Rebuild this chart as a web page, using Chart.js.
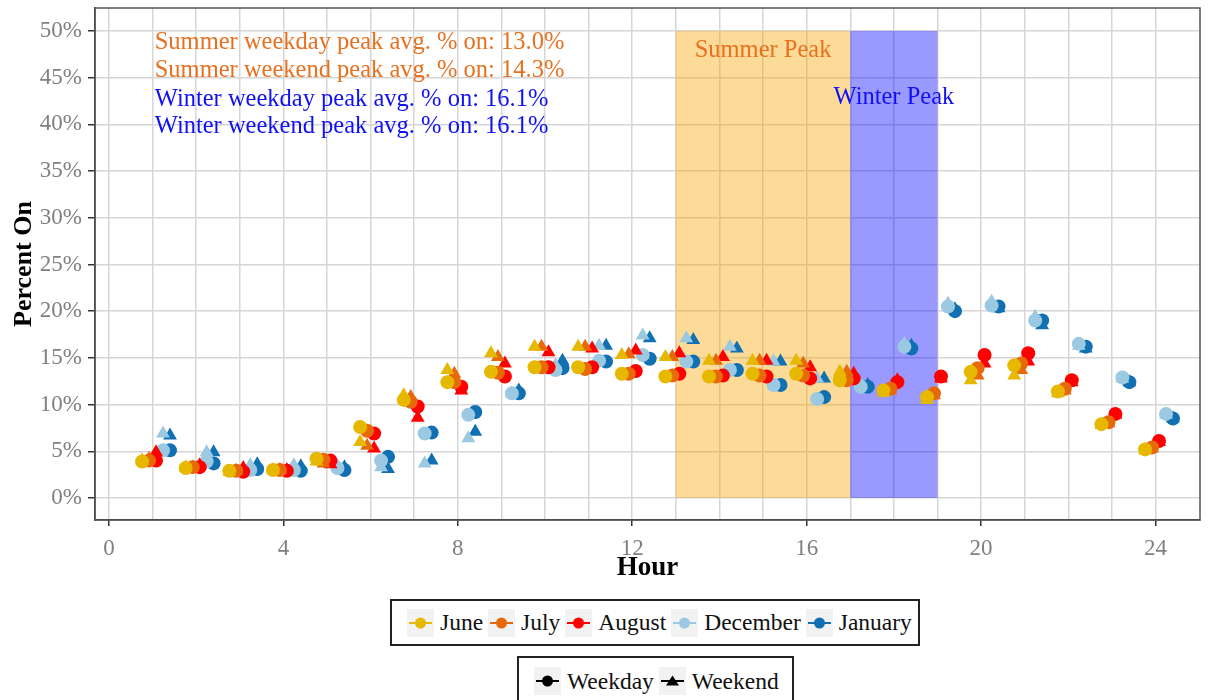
<!DOCTYPE html>
<html>
<head>
<meta charset="utf-8">
<script src="https://cdn.jsdelivr.net/npm/chart.js@4/dist/chart.umd.min.js"></script>
<style>
  body { margin: 0; background: #fff; font-family: "Liberation Serif", serif; }
  #wrap { position: relative; width: 1213px; height: 700px; overflow: hidden; }
  canvas { position: absolute; left: 0; top: 0; }
  .legend { position: absolute; border: 2px solid #222; background: #fff; display: flex; align-items: center; box-sizing: border-box; }
  .item { display: flex; align-items: center; margin-right: 5px; font-size: 23.5px; color: #111; }
  .key { width: 27px; height: 28px; background: #f2f2f2; margin-right: 6px; }
</style>
</head>
<body>
<div id="wrap">
  <canvas id="chart" width="1213" height="700"></canvas>
  <div class="legend" id="leg1" style="left:390px; top:599px; width:530px; height:47px; padding-left:15px;"></div>
  <div class="legend" id="leg2" style="left:517px; top:656px; width:277px; height:50px; padding-left:15px; align-items:flex-start; padding-top:9px;"></div>
</div>
<script>
// hours and monthly % on (circles = weekday, triangles = weekend)
var hours = [1,2,3,4,5,6,7,8,9,10,11,12,13,14,15,16,17,18,19,20,21,22,23,24];
var months = ['June', 'July', 'August', 'December', 'January'];
var monthColors = ['#E7B800', '#E66A0A', '#FF0000', '#9CC9E2', '#1170B2'];
var dodge = [-0.24, -0.08, 0.08, 0.24, 0.40];

var juneWeekday = [3.9,3.2,2.9,3.0,4.2,7.6,10.5,12.4,13.5,14.0,14.0,13.3,13.0,13.0,13.3,13.3,12.6,11.5,10.8,13.5,14.2,11.4,7.9,5.2];
var juneWeekend = [4.0,3.3,2.8,3.0,3.9,6.0,11.0,13.7,15.5,16.2,16.2,15.3,15.1,14.7,14.7,14.7,13.5,11.3,10.5,12.6,13.1,11.2,7.8,5.1];
var julyWeekday = [4.0,3.3,2.9,3.0,4.1,7.2,10.3,12.4,13.4,14.0,13.8,13.3,13.1,13.0,13.1,13.1,12.6,11.7,11.2,13.9,14.4,11.7,8.1,5.4];
var julyWeekend = [4.2,3.3,2.9,3.0,3.7,5.6,10.8,13.3,15.1,16.2,16.2,15.4,15.1,14.7,14.7,14.4,13.5,11.5,11.0,13.1,13.7,11.5,8.0,5.3];
var augWeekday = [4.0,3.3,2.8,2.9,4.0,6.9,9.8,11.9,13.0,14.0,14.0,13.6,13.3,13.1,13.0,12.8,12.8,12.4,13.0,15.3,15.5,12.6,9.0,6.1];
var augWeekend = [4.9,3.5,3.2,3.0,3.6,5.3,8.6,11.5,14.4,15.6,16.0,15.8,15.5,15.1,14.7,14.0,13.3,12.6,12.8,14.4,14.6,12.4,8.9,6.0];
var decWeekday = [5.1,3.9,3.0,3.0,3.2,4.0,6.9,8.9,11.2,13.7,14.7,15.3,14.6,13.7,12.1,10.6,11.9,16.2,20.5,20.6,19.0,16.5,12.9,9.0];
var decWeekend = [6.9,4.9,3.5,3.5,3.4,3.3,3.7,6.4,11.2,14.2,16.3,17.4,17.1,16.2,14.6,12.8,12.1,16.5,20.8,21.0,19.4,16.3,12.8,8.9];
var janWeekday = [5.1,3.7,3.1,2.9,3.0,4.4,7.0,9.2,11.2,13.9,14.6,14.9,14.6,13.7,12.1,10.8,11.9,16.0,20.0,20.5,19.0,16.2,12.4,8.5];
var janWeekend = [6.7,4.9,3.6,3.4,3.3,3.1,4.0,7.1,11.5,14.7,16.3,17.1,16.9,16.0,14.6,12.8,12.1,16.3,20.2,20.3,18.5,16.0,12.4,8.5];

var weekdayValues = [juneWeekday, julyWeekday, augWeekday, decWeekday, janWeekday];
var weekendValues = [juneWeekend, julyWeekend, augWeekend, decWeekend, janWeekend];

var xTicks = [0,4,8,12,16,20,24];
var yTicks = [0,5,10,15,20,25,30,35,40,45,50];

var notes = [
    {text: 'Summer weekday peak avg. % on: 13.0%', color: '#E8701E'},
    {text: 'Summer weekend peak avg. % on: 14.3%', color: '#E8701E'},
    {text: 'Winter weekday peak avg. % on: 16.1%', color: '#1010F5'},
    {text: 'Winter weekend peak avg. % on: 16.1%', color: '#1010F5'}
];

function makeSet(values, m, style) {
    return {
        label: months[m] + ' ' + style,
        data: hours.map(function(h, i) { return {x: h + dodge[m], y: values[i]}; }),
        pointStyle: style,
        pointRadius: style == 'triangle' ? 8 : 7,
        pointHoverRadius: 7,
        backgroundColor: monthColors[m],
        borderColor: monthColors[m],
        borderWidth: 0,
        showLine: false
    };
}

var datasets = [];
for (var m = 0; m < months.length; m++) {
    datasets.push(makeSet(weekendValues[m], m, 'triangle'));
    datasets.push(makeSet(weekdayValues[m], m, 'circle'));
}

var serif = '"Liberation Serif", "Times New Roman", serif';

var panelPlugin = {
    id: 'panel',
    beforeDatasetsDraw: function(chart) {
        var ctx = chart.ctx, xs = chart.scales.x, ys = chart.scales.y;
        ctx.save();
        // peak windows
        ctx.fillStyle = 'rgba(247,165,0,0.4)';
        ctx.fillRect(xs.getPixelForValue(13), ys.getPixelForValue(50),
            xs.getPixelForValue(17) - xs.getPixelForValue(13), ys.getPixelForValue(0) - ys.getPixelForValue(50));
        ctx.fillStyle = 'rgba(0,0,255,0.4)';
        ctx.fillRect(xs.getPixelForValue(17), ys.getPixelForValue(50),
            xs.getPixelForValue(19) - xs.getPixelForValue(17), ys.getPixelForValue(0) - ys.getPixelForValue(50));

        ctx.font = '24.5px ' + serif;
        ctx.textBaseline = 'middle';
        ctx.textAlign = 'center';
        ctx.fillStyle = '#E8701E';
        ctx.fillText('Summer Peak', xs.getPixelForValue(15), ys.getPixelForValue(47.9));
        ctx.fillStyle = '#1010F5';
        ctx.fillText('Winter Peak', xs.getPixelForValue(18), ys.getPixelForValue(42.9));

        ctx.textAlign = 'left';
        var noteY = [48.8, 45.8, 42.7, 39.8];
        notes.forEach(function(n, i) {
            ctx.fillStyle = n.color;
            ctx.fillText(n.text, xs.getPixelForValue(1.05), ys.getPixelForValue(noteY[i]));
        });

        // panel border
        var a = chart.chartArea;
        ctx.strokeStyle = '#555';
        ctx.lineWidth = 1.5;
        ctx.strokeRect(a.left, a.top, a.right - a.left, a.bottom - a.top);
        ctx.restore();
    }
};

var ctx = document.getElementById('chart');
var chart = new Chart(ctx, {
    type: 'scatter',
    data: { datasets: datasets },
    plugins: [panelPlugin],
    options: {
        responsive: false,
        animation: false,
        layout: { padding: { top: 8, right: 13, left: 0, bottom: 0 } },
        plugins: { legend: { display: false }, tooltip: { enabled: false } },
        scales: {
            x: {
                type: 'linear',
                min: -0.32,
                max: 25.02,
                afterBuildTicks: function(scale) {
                    scale.ticks = [0].concat(hours).map(function(v) { return {value: v}; });
                },
                afterFit: function(scale) {
                    scale.height = 180;
                    scale.paddingLeft = 0;
                    scale.paddingRight = 0;
                },
                ticks: {
                    autoSkip: false,
                    maxRotation: 0,
                    padding: 9,
                    color: '#808080',
                    font: { family: serif, size: 23 },
                    callback: function(v) { return xTicks.indexOf(v) >= 0 ? String(v) : ''; }
                },
                grid: {
                    color: '#D6D6D6',
                    lineWidth: 1.5,
                    tickLength: 6,
                    tickColor: function(c) { return xTicks.indexOf(c.tick && c.tick.value) >= 0 ? '#333' : 'rgba(0,0,0,0)'; }
                },
                border: { color: '#333', width: 1.5 },
                title: {
                    display: true,
                    text: 'Hour',
                    color: '#000',
                    font: { family: serif, size: 27, weight: 'bold' },
                    padding: { top: 0, bottom: 116 }
                }
            },
            y: {
                min: -2.36,
                max: 52.46,
                afterBuildTicks: function(scale) {
                    scale.ticks = yTicks.map(function(v) { return {value: v}; });
                },
                afterFit: function(scale) {
                    scale.width = 95;
                    scale.paddingTop = 0;
                    scale.paddingBottom = 0;
                },
                ticks: {
                    padding: 6,
                    color: '#808080',
                    font: { family: serif, size: 23 },
                    callback: function(v) { return v + '%'; }
                },
                grid: { color: '#D6D6D6', lineWidth: 1.5, tickLength: 7, tickColor: '#333' },
                border: { color: '#333', width: 1.5 },
                title: {
                    display: true,
                    text: 'Percent On',
                    color: '#000',
                    font: { family: serif, size: 26, weight: 'bold' },
                    padding: { top: 9, bottom: 0 }
                }
            }
        }
    }
});

// legends below the plot
function keySvg(color, shape) {
    var mark = shape == 'triangle'
        ? '<polygon points="13.5,8.5 20,18.5 7,18.5" fill="' + color + '"/>'
        : '<circle cx="13.5" cy="14" r="5.5" fill="' + color + '"/>';
    return '<svg class="key" viewBox="0 0 27 28"><line x1="2" y1="14" x2="25" y2="14" stroke="' + color + '" stroke-width="2"/>' + mark + '</svg>';
}
var leg1 = document.getElementById('leg1');
months.forEach(function(name, i) {
    leg1.innerHTML += '<div class="item">' + keySvg(monthColors[i], 'circle') + '<span>' + name + '</span></div>';
});
var leg2 = document.getElementById('leg2');
[['Weekday', 'circle'], ['Weekend', 'triangle']].forEach(function(p) {
    leg2.innerHTML += '<div class="item">' + keySvg('#000', p[1]) + '<span>' + p[0] + '</span></div>';
});
</script>
</body>
</html>
